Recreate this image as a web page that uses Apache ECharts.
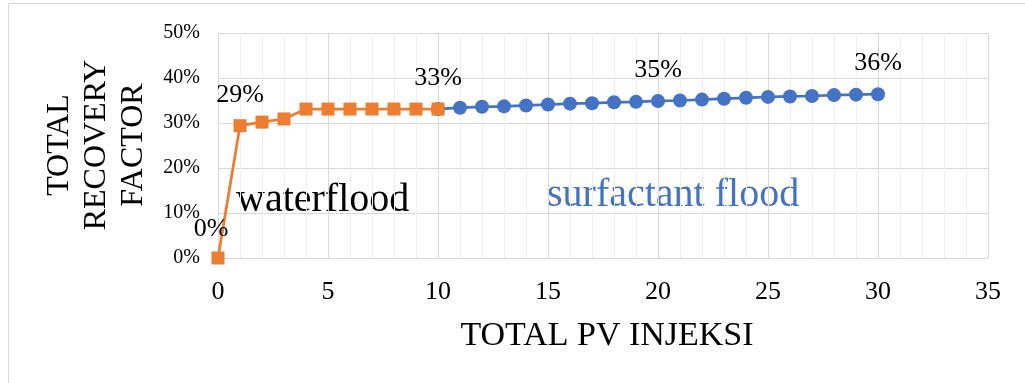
<!DOCTYPE html>
<html>
<head>
<meta charset="utf-8">
<script src="https://cdn.jsdelivr.net/npm/echarts@6/dist/echarts.min.js"></script>
<style>
  html, body { margin: 0; padding: 0; background: #fff; }
  #chart { width: 1025px; height: 383px; }
</style>
</head>
<body>
<div id="chart"></div>
<script>
// Total PV injected (x) and recovery factor (fraction) for each phase
const waterfloodPV = [0, 1, 2, 3, 4, 5, 6, 7, 8, 9, 10];
const waterfloodRF = [0, 0.294, 0.302, 0.309, 0.331, 0.331, 0.331, 0.331, 0.331, 0.331, 0.331];

const surfactantPV = [10, 11, 12, 13, 14, 15, 16, 17, 18, 19, 20,
                      21, 22, 23, 24, 25, 26, 27, 28, 29, 30];
const surfactantRF = [0.331, 0.334, 0.336, 0.337, 0.339, 0.341, 0.343, 0.344, 0.346, 0.347, 0.349,
                      0.350, 0.352, 0.354, 0.356, 0.358, 0.359, 0.360, 0.362, 0.363, 0.364];

// Points that carry a value label
const waterfloodLabeled = [0, 1, 10];
const surfactantLabeled = [20, 30];

const xTicks = [0, 5, 10, 15, 20, 25, 30, 35];
const yTicks = ['0%', '10%', '20%', '30%', '40%', '50%'];

const FONT = 'Liberation Serif, Times New Roman, serif';
const ORANGE = '#ED7D31';
const BLUE = '#4472C4';

const pct = v => Math.round(v * 100) + '%';

function buildData(xs, ys, labeled, offset) {
  return xs.map((x, i) => {
    const item = { value: [x, ys[i]] };
    if (labeled.includes(x)) {
      item.label = { show: true, offset: offset(x) };
    }
    return item;
  });
}

const chart = echarts.init(document.getElementById('chart'), null, { renderer: 'canvas' });

chart.setOption({
  animation: false,
  backgroundColor: '#fff',
  grid: { left: 218, right: 37, top: 33, bottom: 125, containLabel: false },
  xAxis: {
    type: 'value',
    min: 0, max: 35, interval: 5,
    axisLine: { show: true, lineStyle: { color: '#D9D9D9', width: 1 } },
    axisTick: { show: false },
    axisLabel: {
      margin: 21, fontFamily: FONT, fontSize: 26, color: '#000',
      formatter: v => xTicks.includes(v) ? String(v) : ''
    },
    splitLine: { show: true, lineStyle: { color: '#D9D9D9', width: 1 } },
    minorTick: { show: false, splitNumber: 5 },
    minorSplitLine: { show: true, lineStyle: { color: '#EEEEEE', width: 1 } },
    name: 'TOTAL PV INJEKSI',
    nameLocation: 'middle',
    nameGap: 61,
    nameTextStyle: { fontFamily: FONT, fontSize: 34, color: '#000', padding: [0, 0, 0, 8] }
  },
  yAxis: {
    type: 'value',
    min: 0, max: 0.5, interval: 0.1,
    axisLine: { show: false },
    axisTick: { show: false },
    axisLabel: {
      margin: 18, fontFamily: FONT, fontSize: 20, color: '#000',
      formatter: v => yTicks[Math.round(v * 10)]
    },
    splitLine: { show: true, lineStyle: { color: '#D9D9D9', width: 1 } }
  },
  graphic: [
    {
      type: 'rect', silent: true, z: -10,
      shape: { x: 8.5, y: 3.5, width: 1040, height: 400 },
      style: { fill: 'none', stroke: '#D9D9D9', lineWidth: 1 }
    },
    {
      type: 'text', silent: true,
      x: 97, y: 145, rotation: Math.PI / 2,
      style: {
        text: 'TOTAL\nRECOVERY\nFACTOR',
        fontFamily: FONT, fontSize: 32, lineHeight: 37, fill: '#000',
        align: 'center', verticalAlign: 'middle'
      }
    },
    {
      type: 'text', silent: true,
      x: 236, y: 180,
      style: {
        text: 'waterflood', fontFamily: FONT, fontSize: 40, fill: '#000',
        align: 'left', verticalAlign: 'top'
      }
    },
    {
      type: 'text', silent: true,
      x: 547, y: 175,
      style: {
        text: 'surfactant flood', fontFamily: FONT, fontSize: 40, fill: BLUE,
        align: 'left', verticalAlign: 'top'
      }
    }
  ],
  series: [
    {
      name: 'surfactant flood',
      type: 'line',
      z: 2,
      symbol: 'circle',
      symbolSize: 14,
      lineStyle: { color: BLUE, width: 2.75 },
      itemStyle: { color: BLUE },
      label: {
        show: false, position: 'top', distance: 11,
        fontFamily: FONT, fontSize: 26, color: '#000',
        formatter: p => pct(p.value[1])
      },
      data: buildData(surfactantPV, surfactantRF, surfactantLabeled, () => [0, 0])
    },
    {
      name: 'waterflood',
      type: 'line',
      z: 3,
      symbol: 'rect',
      symbolSize: 13,
      lineStyle: { color: ORANGE, width: 2.75 },
      itemStyle: { color: ORANGE },
      label: {
        show: false, position: 'top', distance: 11,
        fontFamily: FONT, fontSize: 26, color: '#000',
        formatter: p => pct(p.value[1])
      },
      data: buildData(waterfloodPV, waterfloodRF, waterfloodLabeled,
        x => x === 0 ? [-7, 2] : [0, 0])
    }
  ]
});
</script>
</body>
</html>
